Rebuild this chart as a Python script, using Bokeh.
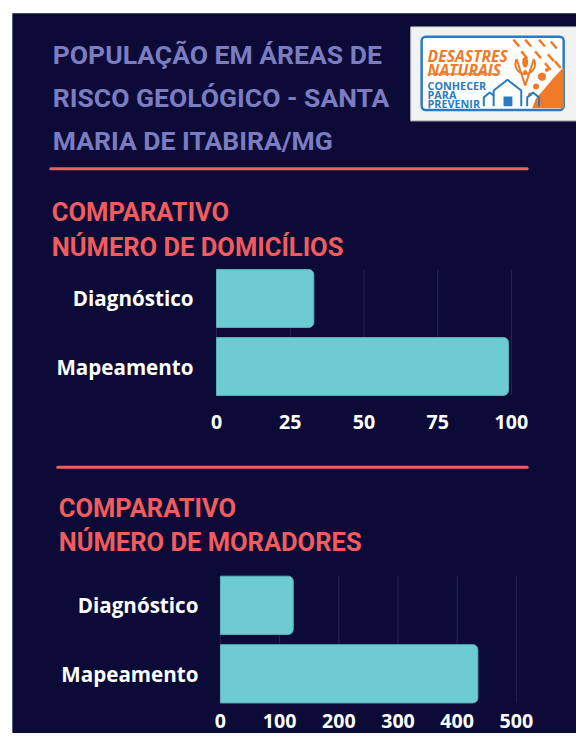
import math
from bokeh.plotting import figure
from bokeh.models import Range1d, FixedTicker, LinearAxis
from bokeh.core.properties import value
from bokeh.embed import file_html
from bokeh.resources import INLINE

# ---------------- data ----------------
TITLE_LINES = ["POPULAÇÃO EM ÁREAS DE", "RISCO GEOLÓGICO - SANTA", "MARIA DE ITABIRA/MG"]
SECTION1 = ["COMPARATIVO", "NÚMERO DE DOMICÍLIOS"]
SECTION2 = ["COMPARATIVO", "NÚMERO DE MORADORES"]
CATEGORIES = ["Diagnóstico", "Mapeamento"]
DOMICILIOS = [33, 99]
MORADORES = [123, 435]
TICKS_DOM = [0, 25, 50, 75, 100]
TICKS_MOR = [0, 100, 200, 300, 400, 500]
LOGO_TOP = ["DESASTRES", "NATURAIS"]
LOGO_BOTTOM = ["CONHECER", "PARA", "PREVENIR"]

# ---------------- style ----------------
BG = "#0C0B38"
RED = "#F25C5E"
LAV = "#7B7DC0"
BAR = "#6DCBD3"
BAR_EDGE = "#58B3BE"
GRID = "#25244F"
ORANGE = "#F07A28"
BLUE = "#2B7BC4"
COND = "Roboto"
SANS = "Open Sans"


def px(size):
    return f"{size * 0.982:.1f}px"


# design space = 584 x 749 reference pixels (y downward), drawn into a 576 x 733 figure
DW, DH = 584, 749
p = figure(width=576, height=733, x_range=Range1d(0, DW), y_range=Range1d(DH, 0),
           x_axis_type=None, y_axis_type=None, output_backend="svg", toolbar_location=None,
           min_border=0, background_fill_color="white", border_fill_color="white",
           outline_line_color=None)
p.grid.visible = False

# dark panel
p.quad(left=[12], right=[DW], top=[13], bottom=[DH], fill_color=BG, line_color=None)

# ---------- header ----------
p.text(x=[53] * 3, y=[55, 99, 143.5], text=TITLE_LINES, text_font=value(COND),
       text_font_size=value(px(27)), text_font_style="bold", text_color=LAV,
       text_baseline="alphabetic")

# logo
p.quad(left=[416], right=[DW], top=[27], bottom=[123], fill_color="#F2F2F2", line_color="#CFCFCF")
p.quad(left=[427], right=[571], top=[37], bottom=[112], fill_color="white", line_color=BLUE,
       line_width=2.5, border_radius=4)
sx = [520, 532, 546, 558, 528, 542, 555, 552, 562]
sy = [40, 40, 40, 42, 52, 52, 55, 64, 62]
p.segment(x0=sx, y0=sy, x1=[v + 6 for v in sx], y1=[v + 7 for v in sy], line_color=ORANGE,
          line_width=2.5)
p.patch(x=[571, 560, 550, 543, 539, 571], y=[68, 80, 92, 100, 110, 110], fill_color=ORANGE,
        line_color=None)
p.scatter(x=[549, 543, 554, 537], y=[78, 88, 71, 96], size=[8, 6, 4, 4], fill_color=ORANGE,
          line_color=None)
ang = [math.radians(a) for a in range(150, 391, 15)]
pin_x = [532 + 10 * math.cos(a) for a in ang] + [532]
pin_y = [65 - 10 * math.sin(a) for a in ang] + [87]
p.patch(x=pin_x, y=pin_y, fill_color="white", line_color=ORANGE, line_width=2)
p.ellipse(x=[532], y=[63], width=[6], height=[11], fill_color=ORANGE, line_color=None)
p.scatter(x=[532], y=[73], size=4, fill_color=ORANGE, line_color=None)
p.multi_line(xs=[[490, 490, 496, 500], [500, 500, 514, 528, 528], [534, 534, 540, 546, 546]],
             ys=[[108, 99, 94, 97], [108, 92, 81, 92, 108], [108, 99, 94, 99, 108]],
             line_color=BLUE, line_width=2)
p.quad(left=[510], right=[519], top=[98], bottom=[108], fill_color=BLUE, line_color=None)
p.text(x=[433, 433], y=[57, 71], text=LOGO_TOP, text_font=value(SANS),
       text_font_size=value(px(16)), text_font_style="bold italic", text_color=ORANGE,
       text_baseline="alphabetic")
p.segment(x0=[433], y0=[75], x1=[503], y1=[75], line_color=ORANGE, line_width=1.5)
p.text(x=[433] * 3, y=[87, 96, 105], text=LOGO_BOTTOM, text_font=value(SANS),
       text_font_size=value(px(11)), text_font_style="bold", text_color=BLUE,
       text_baseline="alphabetic")

# rules and section titles
p.segment(x0=[51, 58], y0=[172, 477], x1=[534, 534], y1=[172, 477], line_color=RED,
          line_width=3, line_cap="round")
p.text(x=[52, 52], y=[216, 251.5], text=SECTION1, text_font=value(COND),
       text_font_size=value(px(26)), text_font_style="bold", text_color=RED,
       text_baseline="alphabetic")
p.text(x=[59, 59], y=[519, 553], text=SECTION2, text_font=value(COND),
       text_font_size=value(px(26)), text_font_style="bold", text_color=RED,
       text_baseline="alphabetic")

# ---------- bar charts (each with its own scales) ----------
IDX = list(range(len(CATEGORIES)))
BAR_H = 0.85


def add_chart(name, values, ticks, x_zero, px_per_unit, y_first, band, y_standoff, x_standoff):
    xr, yr = "x_" + name, "y_" + name
    p.extra_x_ranges[xr] = Range1d((0 - x_zero) / px_per_unit, (DW - x_zero) / px_per_unit)
    p.extra_y_ranges[yr] = Range1d((DH - y_first) / band, (0 - y_first) / band)
    lo, hi = min(IDX) - BAR_H / 2, max(IDX) + BAR_H / 2
    p.segment(x0=ticks, x1=ticks, y0=[lo] * len(ticks), y1=[hi] * len(ticks),
              line_color=GRID, line_width=1, x_range_name=xr, y_range_name=yr)
    p.hbar(y=IDX, left=0, right=values, height=BAR_H, fill_color=BAR, line_color=BAR_EDGE,
           line_width=1, border_radius=(0, 5, 5, 0), x_range_name=xr, y_range_name=yr)
    xa = LinearAxis(x_range_name=xr, y_range_name=yr, fixed_location=max(IDX) + 0.5,
                    ticker=FixedTicker(ticks=ticks))
    ya = LinearAxis(x_range_name=xr, y_range_name=yr, fixed_location=0,
                    ticker=FixedTicker(ticks=IDX),
                    major_label_overrides={i: c for i, c in zip(IDX, CATEGORIES)})
    for ax in (xa, ya):
        ax.axis_line_color = None
        ax.major_tick_line_color = None
        ax.minor_tick_line_color = None
        ax.major_label_text_color = "white"
        ax.major_label_text_font = SANS
        ax.major_label_text_font_style = "bold"
    xa.major_label_text_font_size = px(20)
    ya.major_label_text_font_size = px(21)
    xa.major_label_standoff = x_standoff
    ya.major_label_standoff = y_standoff
    p.add_layout(xa, "below")
    p.add_layout(ya, "left")


add_chart("dom", DOMICILIOS, TICKS_DOM, 219, 299 / 100, 304.5, 69.5, 17, 8)
add_chart("mor", MORADORES, TICKS_MOR, 223, 300 / 500, 618, 70, 16, 0)

open("out.html", "w").write(file_html(p, INLINE))
